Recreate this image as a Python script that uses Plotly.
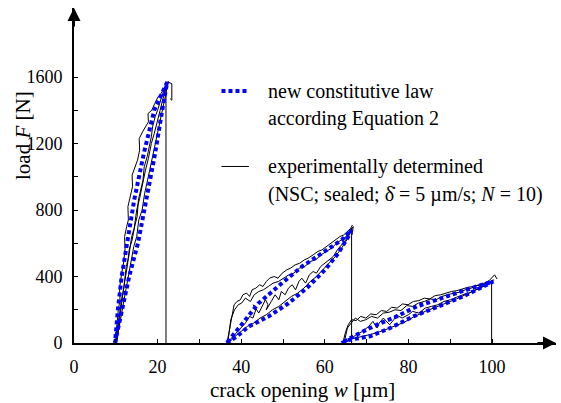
import plotly.graph_objects as go

# ---------------- data ----------------
# model curves (new constitutive law), one loop per cycle: loading branch up, unloading branch down
m1_w = [9.8, 11.6, 13.2, 15.3, 17.3, 19.4, 21.1, 22.3, 19.2, 16.7, 14.4, 12.6, 11.4, 10.5, 9.8]
m1_F = [0, 200, 400, 600, 860, 1140, 1400, 1570, 1400, 1140, 860, 600, 400, 200, 0]
m2_w = [36.5, 39.0, 41.7, 46.5, 51.3, 56.1, 60.0, 63.2, 65.6, 66.4, 66.0, 64.0, 59.2, 54.5, 49.7, 44.1, 39.7, 36.5]
m2_F = [0, 40, 98, 159, 239, 339, 439, 539, 639, 680, 669, 619, 539, 459, 359, 238, 98, 0]
m3_w = [64.0, 66.0, 70.8, 75.6, 81.2, 85.2, 89.2, 93.1, 97.1, 100.3, 96.3, 91.6, 86.8, 82.0, 77.2, 71.6, 67.6, 64.0]
m3_F = [0, 20, 40, 90, 160, 200, 240, 280, 330, 370, 340, 300, 260, 220, 160, 100, 50, 0]

# experimental records (N = 10 cycles, hand-read traces)
e1a_w = [9.9, 10.3, 10.6, 11.0, 10.9, 11.4, 11.8, 12.2, 12.1, 12.6, 13.0, 12.9, 13.5, 14.0, 13.9, 14.6, 15.2, 15.7, 15.6, 16.4, 17.1, 17.8, 17.7, 18.6, 19.3, 20.1, 20.8, 21.5, 22.1, 22.6]
e1a_F = [0, 120, 200, 260, 330, 420, 470, 560, 640, 700, 740, 820, 880, 940, 1010, 1060, 1100, 1160, 1230, 1270, 1300, 1330, 1380, 1400, 1440, 1480, 1500, 1530, 1560, 1575]
e1b_w = [10.2, 10.9, 11.5, 12.2, 12.8, 13.2, 13.9, 14.5, 15.1, 15.4, 16.0, 16.5, 16.8, 17.5, 18.0, 18.5, 18.8, 19.4, 20.0, 20.6, 21.2, 21.8, 22.4, 23.4, 23.5, 23.4, 23.0]
e1b_F = [0, 150, 260, 380, 470, 560, 620, 700, 760, 860, 930, 980, 1060, 1120, 1180, 1240, 1300, 1360, 1400, 1450, 1500, 1530, 1570, 1560, 1500, 1460, 1470]
e1c_w = [10.0, 10.6, 11.3, 11.9, 12.5, 13.1, 13.8, 14.4, 15.0, 15.7, 16.4, 17.1, 17.8, 18.5, 19.2, 19.9, 20.6, 21.3, 22.0, 22.4]
e1c_F = [0, 130, 250, 330, 460, 520, 640, 690, 800, 870, 960, 1040, 1110, 1200, 1260, 1340, 1400, 1470, 1530, 1570]
e1d_w = [10.1, 10.8, 11.6, 12.3, 13.1, 13.6, 14.3, 15.0, 15.5, 16.3, 16.9, 17.6, 18.3, 19.0, 19.7, 20.4, 21.2, 21.9, 22.5]
e1d_F = [0, 100, 220, 300, 410, 480, 580, 640, 740, 800, 900, 980, 1060, 1150, 1230, 1320, 1410, 1490, 1565]

e2a_w = [36.6, 37.2, 37.8, 38.3, 39.0, 39.8, 40.4, 41.3, 42.0, 42.6, 43.5, 44.4, 45.2, 46.0, 46.8, 47.9, 48.8, 49.8, 50.9, 51.8, 52.9, 54.0, 55.1, 56.0, 57.2, 58.3, 59.3, 60.4, 61.5, 62.6, 63.6, 64.5, 65.4, 66.2, 66.6]
e2a_F = [0, 90, 170, 230, 250, 260, 290, 300, 280, 320, 330, 350, 340, 370, 390, 400, 390, 420, 440, 450, 470, 480, 500, 510, 530, 550, 560, 580, 600, 620, 640, 650, 670, 690, 710]
e2b_w = [36.8, 37.5, 38.4, 39.3, 40.1, 41.0, 42.2, 43.1, 44.2, 45.3, 46.5, 47.6, 48.9, 50.1, 51.4, 52.6, 53.9, 55.2, 56.5, 57.8, 59.1, 60.3, 61.6, 62.8, 64.0, 65.1, 66.0, 66.8, 66.5]
e2b_F = [0, 140, 200, 230, 240, 270, 250, 290, 310, 320, 340, 360, 370, 390, 410, 420, 450, 460, 490, 500, 530, 550, 570, 600, 620, 640, 670, 700, 650]
e2c_w = [36.6, 38.0, 39.5, 41.0, 42.0, 42.8, 43.5, 42.9, 44.2, 45.0, 45.8, 46.4, 46.0, 47.2, 48.1, 49.0, 49.6, 50.5, 51.3, 52.2, 53.0, 53.8, 54.5, 55.4, 56.3, 57.2, 58.0, 59.0, 60.0, 61.0, 62.0, 63.0, 64.0, 65.0, 66.0]
e2c_F = [0, 40, 80, 120, 160, 150, 200, 230, 180, 220, 260, 230, 200, 250, 290, 260, 310, 290, 330, 350, 320, 370, 390, 360, 410, 430, 420, 460, 480, 500, 520, 560, 590, 620, 660]
e2d_w = [37.0, 38.5, 40.0, 41.5, 43.0, 44.5, 46.0, 47.5, 49.0, 50.5, 52.0, 53.5, 55.0, 56.5, 58.0, 59.5, 61.0, 62.5, 64.0, 65.5, 66.4]
e2d_F = [0, 40, 70, 100, 120, 150, 170, 200, 220, 250, 280, 300, 330, 370, 400, 440, 480, 520, 570, 630, 690]

e3a_w = [64.3, 65.0, 65.6, 66.4, 67.5, 68.6, 69.8, 71.0, 72.3, 73.5, 74.8, 76.0, 77.3, 78.6, 79.9, 81.2, 82.5, 83.8, 85.1, 86.4, 87.7, 89.0, 90.3, 91.6, 92.9, 94.2, 95.5, 96.8, 98.1, 99.3, 100.2, 100.6, 101.2]
e3a_F = [0, 70, 110, 140, 135, 160, 150, 175, 170, 195, 190, 215, 210, 235, 230, 250, 255, 270, 265, 285, 290, 300, 310, 315, 325, 335, 340, 350, 360, 375, 400, 410, 385]
e3b_w = [64.6, 65.4, 66.3, 67.3, 68.5, 69.8, 71.2, 72.6, 74.0, 75.4, 76.8, 78.2, 79.6, 81.0, 82.4, 83.8, 85.2, 86.6, 88.0, 89.4, 90.8, 92.2, 93.6, 95.0, 96.4, 97.8, 99.2, 100.5]
e3b_F = [0, 90, 120, 150, 130, 140, 160, 150, 180, 185, 200, 195, 225, 220, 240, 250, 265, 260, 280, 290, 300, 305, 320, 330, 345, 350, 365, 380]
e3c_w = [66.0, 67.5, 69.0, 70.5, 71.5, 72.5, 73.0, 74.0, 75.5, 76.5, 77.0, 78.5, 80.0, 81.0, 82.5, 84.0, 85.5, 87.0, 88.5, 90.0, 91.5, 93.0, 94.5, 96.0, 97.5, 99.0, 100.2]
e3c_F = [20, 50, 70, 100, 130, 90, 120, 150, 110, 140, 170, 150, 170, 190, 180, 210, 220, 230, 250, 260, 275, 290, 300, 320, 335, 350, 370]
e3d_w = [64.5, 66.5, 69.0, 71.5, 74.0, 76.5, 79.0, 81.5, 84.0, 86.5, 89.0, 91.5, 94.0, 96.5, 99.0, 100.3]
e3d_F = [0, 25, 40, 55, 75, 100, 125, 160, 190, 215, 240, 265, 295, 325, 355, 370]

# vertical drop lines at the end of each loading sequence
drop_w = [22.0, 66.4, 99.9]
drop_F = [1570, 690, 370]

x_ticks = [0, 20, 40, 60, 80, 100]
x_minor = [10, 30, 50, 70, 90]
y_ticks = [0, 400, 800, 1200, 1600]
y_minor = [200, 600, 1000, 1400]

FONT = "Liberation Serif"
BLUE = "#0000ff"

fig = go.Figure()

exp_sets = [(e1a_w, e1a_F), (e1b_w, e1b_F), (e1c_w, e1c_F), (e1d_w, e1d_F),
            (e2a_w, e2a_F), (e2b_w, e2b_F), (e2c_w, e2c_F), (e2d_w, e2d_F),
            (e3a_w, e3a_F), (e3b_w, e3b_F), (e3c_w, e3c_F), (e3d_w, e3d_F)]
for w, F in exp_sets:
    fig.add_trace(go.Scatter(x=w, y=F, mode="lines",
                             line=dict(color="black", width=1), hoverinfo="skip"))

for dw, dF in zip(drop_w, drop_F):
    fig.add_trace(go.Scatter(x=[dw, dw], y=[0, dF], mode="lines",
                             line=dict(color="black", width=1), hoverinfo="skip"))

for w, F in [(m1_w, m1_F), (m2_w, m2_F), (m3_w, m3_F)]:
    fig.add_trace(go.Scatter(x=w, y=F, mode="lines",
                             line=dict(color=BLUE, width=4, dash="4px,3px"), hoverinfo="skip"))

axis_common = dict(showline=True, linecolor="black", linewidth=2, ticks="inside",
                   ticklen=4, tickwidth=1, tickcolor="black", showgrid=False,
                   zeroline=False, tickfont=dict(family=FONT, size=18, color="black"))

fig.update_layout(
    width=561, height=403,
    margin=dict(l=74, r=5, t=8, b=60),
    paper_bgcolor="white", plot_bgcolor="white",
    showlegend=False,
    font=dict(family=FONT, color="black"),
    xaxis=dict(range=[0, 115.3], tickvals=x_ticks, ticktext=[str(v) for v in x_ticks],
               minor=dict(tickvals=x_minor, ticks="inside", ticklen=4, tickcolor="black"),
               ticklabelstandoff=6, **axis_common),
    yaxis=dict(range=[0, 2015], tickvals=y_ticks, ticktext=[str(v) for v in y_ticks],
               minor=dict(tickvals=y_minor, ticks="inside", ticklen=4, tickcolor="black"),
               ticklabelstandoff=6, **axis_common),
)

# axis arrows
fig.add_annotation(x=1, y=0, xref="paper", yref="paper", ax=-20, ay=0, text="",
                   showarrow=True, arrowhead=2, arrowwidth=2, arrowsize=1.3,
                   arrowcolor="black", standoff=0)
fig.add_annotation(x=0, y=1, xref="paper", yref="paper", ax=0, ay=20, text="",
                   showarrow=True, arrowhead=2, arrowwidth=2, arrowsize=1.3,
                   arrowcolor="black", standoff=0)

# axis titles
fig.add_annotation(x=-0.1058, y=0.618, xref="paper", yref="paper",
                   text="load <i>F</i> [N]", textangle=-90, showarrow=False,
                   font=dict(family=FONT, size=21, color="black"),
                   xanchor="center", yanchor="middle")
fig.add_annotation(x=0.475, y=-0.140, xref="paper", yref="paper",
                   text="crack opening <i>w</i> [µm]", showarrow=False,
                   font=dict(family=FONT, size=21, color="black"),
                   xanchor="center", yanchor="middle")

# legend (drawn manually)
fig.add_shape(type="line", xref="paper", yref="paper", x0=0.306, x1=0.363, y0=0.752, y1=0.752,
              line=dict(color=BLUE, width=4, dash="4px,3px"))
fig.add_shape(type="line", xref="paper", yref="paper", x0=0.306, x1=0.363, y0=0.527, y1=0.527,
              line=dict(color="black", width=1))
leg_font = dict(family=FONT, size=20, color="black")
for ytxt, txt in [(0.752, "new constitutive law"),
                  (0.669, "according Equation 2"),
                  (0.528, "experimentally determined"),
                  (0.442, "(NSC; sealed; \u03b4\u0307 = 5 µm/s; <i>N</i> = 10)")]:
    fig.add_annotation(x=0.398, y=ytxt, xref="paper", yref="paper", text=txt,
                       showarrow=False, font=leg_font, xanchor="left", yanchor="middle")

fig.write_html("out.html")
